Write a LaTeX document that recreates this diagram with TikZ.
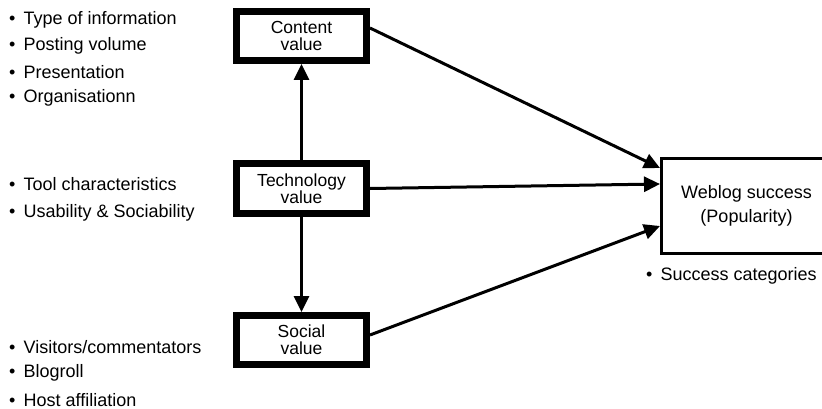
\documentclass[tikz,border=0pt]{standalone}
\usepackage{fontspec}
\setmainfont{Liberation Sans}
\usetikzlibrary{arrows.meta}

\begin{document}
\begin{tikzpicture}[x=1pt,y=-1pt,
  valuebox/.style={draw, rectangle, line width=7pt, minimum width=130pt, minimum height=49pt, inner sep=0pt, align=center, font=\fontsize{17.5}{17}\selectfont},
  successbox/.style={draw, rectangle, line width=3pt, minimum width=170pt, minimum height=95pt, inner sep=0pt, align=center, font=\fontsize{18}{24}\selectfont},
  item/.style={anchor=west, inner sep=0pt, font=\fontsize{18}{18}\selectfont},
  link/.style={line width=3pt, -{Triangle[length=16pt,width=15pt]}}]
\useasboundingbox (0,0) rectangle (822,409);
\clip (0,0) rectangle (822,409);
\newcommand{\bul}{\textbullet\hspace{0.45em}}
\node[valuebox] (con) at (301.5,36){Content\\value};
\node[valuebox] (tec) at (301.5,188.5){Technology\\value};
\node[valuebox] (soc) at (301.5,340){Social\\value};
\node[successbox] (web) at (746.5,206){Weblog success\\(Popularity)};
% bullet lists
\node[item] (c1) at (9,20){\bul Type of information};
\node[item] (c2) at (9,46){\bul Posting volume};
\node[item] (c3) at (9,72){\bul Presentation};
\node[item] (c4) at (9,98){\bul Organisationn};
\node[item] (t1) at (9,184){\bul Tool characteristics};
\node[item] (t2) at (9,213){\bul Usability \& Sociability};
\node[item] (s1) at (9,347){\bul Visitors/commentators};
\node[item] (s2) at (9,373){\bul Blogroll};
\node[item] (s3) at (9,400){\bul Host affiliation};
\node[item] (w0) at (646,276){\bul Success categories};
% connectors
\coordinate (w1) at ([yshift=38pt]web.west);
\coordinate (w2) at ([yshift=22pt]web.west);
\coordinate (w3) at ([yshift=-20pt]web.west);
\draw[link] (tec.north) -- (con.south);
\draw[link] (tec.south) -- (soc.north);
\draw[link] ([yshift=8pt]con.east) -- (w1);
\draw[link] (tec.east) -- (w2);
\draw[link] ([yshift=5pt]soc.east) -- (w3);
\end{tikzpicture}
\end{document}
